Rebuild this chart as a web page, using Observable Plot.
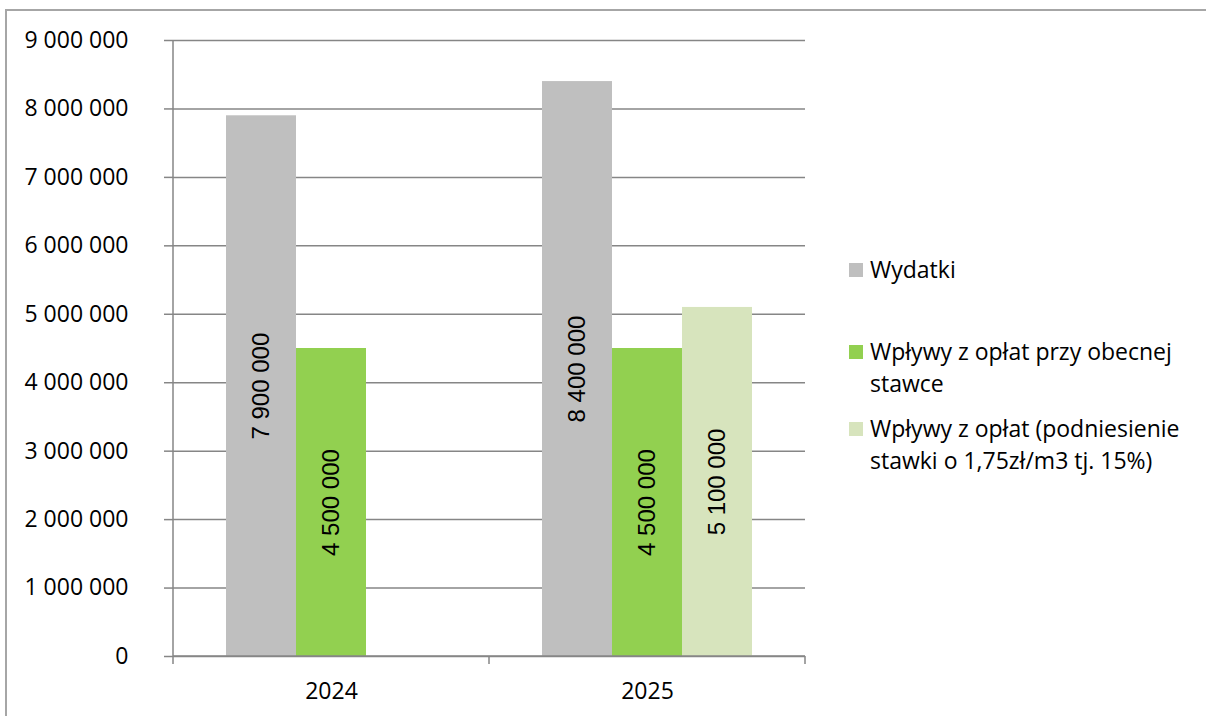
<!DOCTYPE html>
<html>
<head>
<meta charset="utf-8">
<script src="https://cdn.jsdelivr.net/npm/d3@7"></script>
<script src="https://cdn.jsdelivr.net/npm/@observablehq/plot@0.6"></script>
<style>
  html, body { margin: 0; padding: 0; background: #fff; overflow: hidden; }
  #wrap { position: relative; width: 1206px; height: 716px; overflow: hidden; font-family: "Open Sans", sans-serif; }
  #border { position: absolute; left: 5px; top: 9px; width: 1400px; height: 900px; border-left: 2px solid #a6a6a6; border-top: 2px solid #a6a6a6; box-sizing: border-box; }
  #plot { position: absolute; left: 0; top: 0; }
  .lg { position: absolute; left: 849px; font-size: 23px; line-height: 32px; color: #000; }
  .lg .sw { position: absolute; left: 0; top: 10px; width: 14px; height: 14px; }
  .lg .tx { position: absolute; left: 21px; top: 0; white-space: nowrap; }
</style>
</head>
<body>
<div id="wrap">
  <div id="border"></div>
  <div id="plot"></div>
  <div id="legend"></div>
</div>
<script>
// ---- data ----
const years = ["2024", "2025"];
const series = [
  "Wydatki",
  "Wpływy z opłat przy obecnej stawce",
  "Wpływy z opłat (podniesienie stawki o 1,75zł/m3 tj. 15%)"
];
const legendLines = [
  ["Wydatki"],
  ["Wpływy z opłat przy obecnej", "stawce"],
  ["Wpływy z opłat (podniesienie", "stawki o 1,75zł/m3 tj. 15%)"]
];
const wydatki = [7900000, 8400000];
const wplywyObecne = [4500000, 4500000];
const wplywyPodwyzka = [null, 5100000];
const yTicks = [0, 1000000, 2000000, 3000000, 4000000, 5000000, 6000000, 7000000, 8000000, 9000000];
const colors = ["#bfbfbf", "#92d050", "#d7e4bd"];

// ---- table ----
const seriesValues = [wydatki, wplywyObecne, wplywyPodwyzka];
const table = [];
years.forEach((yr, i) => {
  series.forEach((s, j) => {
    const v = seriesValues[j][i];
    if (v != null) table.push({year: yr, series: s, value: v});
  });
});

const fmt = d3.formatLocale({decimal: ",", thousands: " ", grouping: [3], currency: ["", ""]}).format(",d");

const W = 1206, H = 716;
const plot = Plot.plot({
  width: W,
  height: H,
  marginLeft: 173,
  marginRight: 401,
  marginTop: 40,
  marginBottom: 60,
  style: {fontFamily: "'Open Sans', sans-serif", fontSize: "23px", background: "transparent", color: "#000", overflow: "visible"},
  fx: {domain: years, padding: 0, label: null},
  x: {domain: series, axis: null, paddingInner: 0, paddingOuter: 0.757},
  y: {domain: [0, 9000000], label: null},
  color: {domain: series, range: colors},
  marks: [
    Plot.gridY(yTicks, {stroke: "#868686", strokeOpacity: 1, strokeWidth: 1.5}),
    Plot.axisY({ticks: yTicks, tickFormat: fmt, tickSize: 9, tickPadding: 36, stroke: "#868686", strokeWidth: 1.5, fill: "#000", fontSize: 23, label: null}),
    Plot.axisFx({anchor: "bottom", tickSize: 0, tickPadding: 26, fill: "#000", fontSize: 23, label: null}),
    Plot.barY(table, {fx: "year", x: "series", y: "value", fill: "series"}),
    Plot.text(table, {
      fx: "year", x: "series", y: d => d.value / 2,
      text: d => fmt(d.value), rotate: -90,
      fontFamily: "'Liberation Sans', Arial, sans-serif", fontSize: 24, fill: "#000"
    })
  ]
});
document.getElementById("plot").appendChild(plot);

// axis line and category boundary ticks, from Plot's scales
const fxS = plot.scale("fx"), yS = plot.scale("y");
const y0 = yS.apply(0), yTop = yS.apply(9000000);
const edges = years.map(d => fxS.apply(d));
edges.push(fxS.apply(years[years.length - 1]) + fxS.bandwidth);
const svg = d3.select(plot);
const g = svg.append("g").attr("stroke", "#868686").attr("stroke-width", 1.5);
g.append("line").attr("x1", edges[0]).attr("x2", edges[0]).attr("y1", yTop).attr("y2", y0);
g.append("line").attr("x1", edges[0]).attr("x2", edges[edges.length - 1]).attr("y1", y0).attr("y2", y0);
edges.forEach(x => g.append("line").attr("x1", x).attr("x2", x).attr("y1", y0).attr("y2", y0 + 8));

// legend
const tops = [253, 335, 412];
const lg = document.getElementById("legend");
legendLines.forEach((lines, i) => {
  const e = document.createElement("div");
  e.className = "lg";
  e.style.top = tops[i] + "px";
  e.innerHTML = `<div class="sw" style="background:${colors[i]}"></div><div class="tx">${lines.join("<br>")}</div>`;
  lg.appendChild(e);
});
</script>
</body>
</html>
